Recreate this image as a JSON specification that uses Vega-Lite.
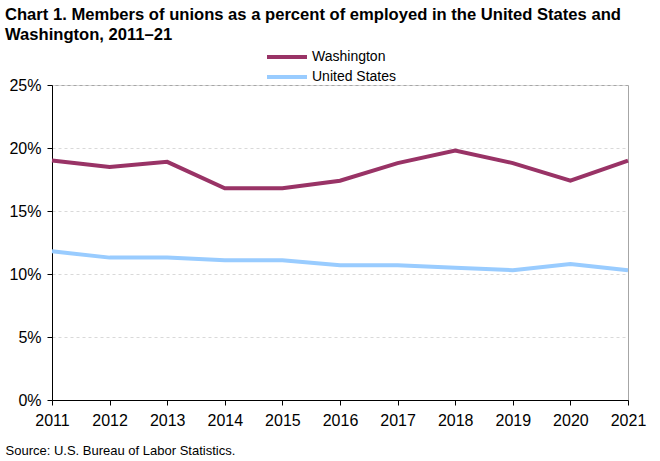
{
  "$schema": "https://vega.github.io/schema/vega-lite/v6.json",
  "width": 576,
  "height": 315,
  "autosize": {"type": "none"},
  "padding": {"left": 52, "top": 85, "right": 32, "bottom": 61},
  "background": "white",
  "title": {
    "text": ["Chart 1. Members of unions as a percent of employed  in the United States and", "Washington, 2011–21"],
    "anchor": "start",
    "frame": "group",
    "dx": -47,
    "font": "Liberation Sans",
    "fontSize": 16.6,
    "fontWeight": "bold",
    "color": "#000000",
    "lineHeight": 20,
    "offset": 1
  },
  "data": {
    "values": [
      {"year": 2011, "series": "Washington", "value": 19.0},
      {"year": 2012, "series": "Washington", "value": 18.5},
      {"year": 2013, "series": "Washington", "value": 18.9},
      {"year": 2014, "series": "Washington", "value": 16.8},
      {"year": 2015, "series": "Washington", "value": 16.8},
      {"year": 2016, "series": "Washington", "value": 17.4},
      {"year": 2017, "series": "Washington", "value": 18.8},
      {"year": 2018, "series": "Washington", "value": 19.8},
      {"year": 2019, "series": "Washington", "value": 18.8},
      {"year": 2020, "series": "Washington", "value": 17.4},
      {"year": 2021, "series": "Washington", "value": 19.0},
      {"year": 2011, "series": "United States", "value": 11.8},
      {"year": 2012, "series": "United States", "value": 11.3},
      {"year": 2013, "series": "United States", "value": 11.3},
      {"year": 2014, "series": "United States", "value": 11.1},
      {"year": 2015, "series": "United States", "value": 11.1},
      {"year": 2016, "series": "United States", "value": 10.7},
      {"year": 2017, "series": "United States", "value": 10.7},
      {"year": 2018, "series": "United States", "value": 10.5},
      {"year": 2019, "series": "United States", "value": 10.3},
      {"year": 2020, "series": "United States", "value": 10.8},
      {"year": 2021, "series": "United States", "value": 10.3}
    ]
  },
  "config": {
    "view": {"stroke": "#a6a6a6", "strokeWidth": 1},
    "font": "Liberation Sans"
  },
  "mark": {"type": "line", "strokeWidth": 4, "interpolate": "linear"},
  "encoding": {
    "x": {
      "field": "year",
      "type": "quantitative",
      "scale": {"domain": [2011, 2021], "nice": false, "zero": false},
      "axis": {
        "values": [2011, 2012, 2013, 2014, 2015, 2016, 2017, 2018, 2019, 2020, 2021],
        "format": "d",
        "grid": false,
        "domainColor": "#000000",
        "domainWidth": 1,
        "tickColor": "#000000",
        "tickSize": 5,
        "labelFontSize": 16,
        "labelColor": "#000000",
        "labelPadding": 7,
        "labelFlush": false,
        "title": "Source: U.S. Bureau of Labor Statistics.",
        "titleFontSize": 13,
        "titleFontWeight": "normal",
        "titleColor": "#000000",
        "titleAnchor": "start",
        "titleAlign": "left",
        "titleX": -47,
        "titleY": 50,
        "titleBaseline": "middle"
      }
    },
    "y": {
      "field": "value",
      "type": "quantitative",
      "scale": {"domain": [0, 25], "nice": false},
      "axis": {
        "values": [0, 5, 10, 15, 20, 25],
        "labelExpr": "datum.value + '%'",
        "grid": true,
        "gridColor": "#d9d9d9",
        "gridDash": [3, 3],
        "gridWidth": 1,
        "domainColor": "#000000",
        "tickColor": "#000000",
        "tickSize": 5,
        "labelFontSize": 16,
        "labelColor": "#000000",
        "labelPadding": 6,
        "title": null
      }
    },
    "color": {
      "field": "series",
      "type": "nominal",
      "sort": ["Washington", "United States"],
      "scale": {"domain": ["Washington", "United States"], "range": ["#993366", "#99ccff"]},
      "legend": {
        "title": null,
        "orient": "none",
        "legendX": 223,
        "legendY": -40,
        "symbolType": "M-2,0H2",
        "symbolSize": 400,
        "symbolStrokeWidth": 4,
        "labelFontSize": 14,
        "labelColor": "#000000",
        "labelOffset": 13,
        "rowPadding": 0
      }
    }
  }
}
